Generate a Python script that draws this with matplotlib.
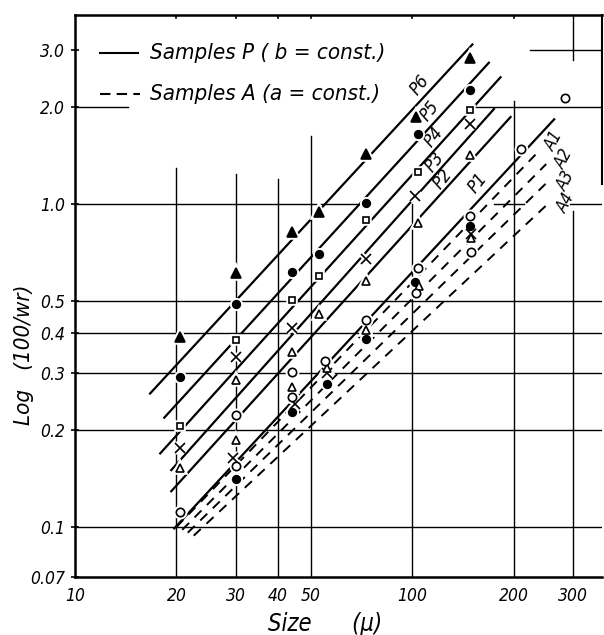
import matplotlib
matplotlib.use('Agg')
import matplotlib.pyplot as plt
from matplotlib.lines import Line2D
from matplotlib.ticker import NullLocator

# measured points, grouped by marker shape (size in micron, log(100/wr))
tri_x = [20.5, 30, 44, 53, 73, 103, 149]
tri_y = [0.388, 0.613, 0.819, 0.945, 1.425, 1.86, 2.84]

dot_x = [20.5, 30, 44, 53, 73, 104, 149, 30, 44, 56, 73, 102, 149]
dot_y = [0.291, 0.491, 0.617, 0.702, 1.01, 1.645, 2.25, 0.141, 0.227, 0.278, 0.383, 0.575, 0.855]

sq_x = [20.5, 30, 44, 53, 73, 104, 149]
sq_y = [0.206, 0.38, 0.504, 0.598, 0.89, 1.26, 1.96]

cross_x = [20.5, 30, 44, 73, 102, 149, 29.5, 45, 56, 150]
cross_y = [0.175, 0.336, 0.413, 0.677, 1.06, 1.77, 0.163, 0.241, 0.30, 0.81]

otri_x = [20.5, 30, 44, 53, 73, 104, 149, 30, 44, 56, 73, 105, 150]
otri_y = [0.152, 0.285, 0.349, 0.455, 0.578, 0.872, 1.415, 0.186, 0.271, 0.31, 0.408, 0.557, 0.786]

circ_x = [20.5, 30, 44, 55, 73, 104, 149, 210, 284, 30, 44, 103, 150]
circ_y = [0.111, 0.154, 0.253, 0.326, 0.438, 0.632, 0.918, 1.477, 2.13, 0.222, 0.302, 0.531, 0.712]

# hand drawn lines, start and end points
p_names = ['P1', 'P2', 'P3', 'P4', 'P5', 'P6']
p_x0 = [19.7, 19.3, 19.3, 17.9, 18.4, 16.7]
p_y0 = [0.099, 0.129, 0.150, 0.169, 0.218, 0.259]
p_x1 = [264, 196, 175, 183, 169, 151]
p_y1 = [1.83, 1.86, 1.97, 2.47, 2.74, 3.12]
p_lab_x = [157, 123, 117, 115.6, 113, 105.7]
p_lab_y = [1.16, 1.195, 1.35, 1.61, 1.94, 2.34]

a_names = ['A1', 'A2', 'A3', 'A4']
a_x0 = [20.0, 20.8, 21.6, 22.5]
a_y0 = [0.100, 0.098, 0.096, 0.094]
a_x1 = [241, 250, 250, 250]
a_y1 = [1.48, 1.33, 1.16, 0.99]
a_lab_x = [264, 283, 287, 287]
a_lab_y = [1.57, 1.378, 1.178, 1.007]

x_ticks = [10, 20, 30, 40, 50, 100, 200, 300]
x_tick_labels = ['10', '20', '30', '40', '50', '100', '200', '300']
y_ticks = [0.07, 0.1, 0.2, 0.3, 0.4, 0.5, 1.0, 2.0, 3.0]
y_tick_labels = ['0.07', '0.1', '0.2', '0.3', '0.4', '0.5', '1.0', '2.0', '3.0']

FONT = dict(family='DejaVu Sans', style='italic', stretch='condensed')

fig = plt.figure(figsize=(6.04, 6.35), dpi=100)
ax = fig.add_axes([75/604, 1 - 577/635, (602 - 75)/604, (577 - 15)/635])
ax.set_xscale('log')
ax.set_yscale('log')
XMAX, YMAX = 366, 3.85
ax.set_xlim(10, XMAX)
ax.set_ylim(0.07, YMAX)

# broken grid, as on the paper
vgrid = [(20, 0.07, 1.29), (30, 0.07, 1.24), (40, 0.07, 1.195), (50, 0.07, 1.62),
         (100, 0.07, 1.0), (200, 0.07, 2.08), (300, 0.07, 0.95), (300, 2.8, YMAX)]
hgrid = [(3.0, 224, XMAX), (2.0, 10, 14.4), (2.0, 154, XMAX), (1.0, 10, 71),
         (1.0, 175, 215), (1.0, 295, XMAX), (0.5, 10, XMAX), (0.4, 10, XMAX),
         (0.3, 10, XMAX), (0.2, 10, XMAX), (0.1, 10, XMAX)]
for x, y0, y1 in vgrid:
    ax.plot([x, x], [y0, y1], color='k', lw=1.0, zorder=1)
for y, x0, x1 in hgrid:
    ax.plot([x0, x1], [y, y], color='k', lw=1.0, zorder=1)
ax.plot([XMAX, XMAX], [1.15, YMAX], color='k', lw=1.5, zorder=1, clip_on=False)

for i in range(len(p_names)):
    ax.plot([p_x0[i], p_x1[i]], [p_y0[i], p_y1[i]], color='k', lw=1.6, zorder=2)
    ax.text(p_lab_x[i], p_lab_y[i], p_names[i], rotation=52, fontsize=13,
            ha='center', va='center', **FONT)
for i in range(len(a_names)):
    ax.plot([a_x0[i], a_x1[i]], [a_y0[i], a_y1[i]], color='k', lw=1.4,
            ls=(0, (5, 4)), zorder=2)
    ax.text(a_lab_x[i], a_lab_y[i], a_names[i], rotation=62, fontsize=12,
            ha='center', va='center', **FONT)

def marks(xs, ys, m, face, size):
    # white halo first so the lines look broken round each point
    ax.plot(xs, ys, ls='none', marker=m, ms=size, mfc='white', mec='white',
            mew=4, zorder=3)
    ax.plot(xs, ys, ls='none', marker=m, ms=size, mfc=face, mec='k',
            mew=1.2, zorder=4)

marks(tri_x, tri_y, '^', 'k', 6.5)
marks(dot_x, dot_y, 'o', 'k', 5.5)
marks(sq_x, sq_y, 's', 'white', 5)
marks(cross_x, cross_y, 'x', 'k', 6.5)
marks(otri_x, otri_y, '^', 'white', 6)
marks(circ_x, circ_y, 'o', 'white', 6)

ax.set_xticks(x_ticks)
ax.set_xticklabels(x_tick_labels, fontsize=12.5, **FONT)
ax.set_yticks(y_ticks)
ax.set_yticklabels(y_tick_labels, fontsize=12.5, **FONT)
ax.xaxis.set_minor_locator(NullLocator())
ax.yaxis.set_minor_locator(NullLocator())
ax.tick_params(axis='x', length=0, pad=7)
ax.tick_params(axis='y', length=6, direction='inout', width=1.2, pad=4)
for s in ['left', 'bottom', 'top']:
    ax.spines[s].set_linewidth(1.8)
ax.spines['right'].set_visible(False)
for x in [20, 30, 40, 50, 100, 200]:
    ax.plot([x, x], [YMAX / 1.025, YMAX], color='k', lw=1.2, zorder=1)

fig.text(325/604, 1 - 624/635, 'Size      (\u03bc)', ha='center', va='center',
         fontsize=17, **FONT)
fig.text(24/604, 1 - 355/635, 'Log   (100/wr)', ha='center', va='center',
         rotation=90, fontsize=16, **FONT)

# hand made key
fig.add_artist(Line2D([100/604, 138/604], [1 - 53/635] * 2, color='k', lw=1.5))
fig.add_artist(Line2D([100/604, 140/604], [1 - 94/635] * 2, color='k', lw=1.5,
                      ls=(0, (5, 3))))
fig.text(150/604, 1 - 53/635, 'Samples P ( b = const.)', ha='left', va='center',
         fontsize=16, **FONT)
fig.text(150/604, 1 - 94/635, 'Samples A (a = const.)', ha='left', va='center',
         fontsize=16, **FONT)

fig.savefig('out.png', dpi=100)
